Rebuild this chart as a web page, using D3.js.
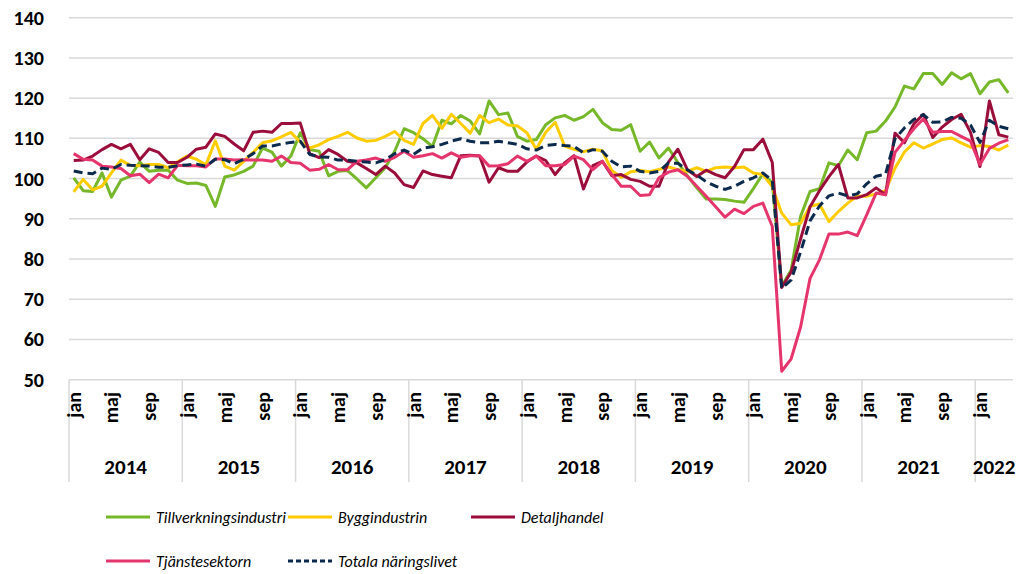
<!DOCTYPE html>
<html>
<head>
<meta charset="utf-8">
<script src="https://cdn.jsdelivr.net/npm/d3@7"></script>
<style>
    body { margin: 0; background: #fff; }
    svg { display: block; font-family: Carlito, Lato, sans-serif; }
    .grid line { stroke: #d9d9d9; stroke-width: 1.5px; }
    .tick-y { font-weight: bold; font-size: 20px; fill: #000; }
    .tick-x { font-weight: bold; font-size: 20px; fill: #000; }
    .year { font-weight: bold; font-size: 21px; fill: #000; }
    .legend text { font-style: italic; font-size: 16px; fill: #000; }
</style>
</head>
<body>
<div id="chart"></div>
<script>
// categories
const years = ["2014", "2015", "2016", "2017", "2018", "2019", "2020", "2021", "2022"];
const monthNames = ["jan", "feb", "mar", "apr", "maj", "jun", "jul", "aug", "sep", "okt", "nov", "dec"];
const shownMonths = ["jan", "maj", "sep"];
const yTicks = [50, 60, 70, 80, 90, 100, 110, 120, 130, 140];

// series, jan 2014 - apr 2022
const tillverkning = [
    100.2, 97.0, 96.8, 101.4, 95.4, 99.6, 100.6, 104.1, 101.8, 102.1, 102.1, 99.6,
    98.8, 98.9, 98.3, 93.1, 100.4, 100.9, 101.8, 103.1, 107.6, 106.6, 103.1, 105.6,
    111.4, 107.2, 106.8, 100.7, 101.8, 102.0, 99.9, 97.7, 100.2, 102.7, 106.8, 112.4,
    111.4, 109.9, 108.0, 114.5, 113.6, 115.7, 114.3, 111.1, 119.3, 115.9, 116.3, 110.5,
    109.3, 109.7, 113.4, 115.1, 115.7, 114.5, 115.4, 117.2, 113.9, 112.2, 112.0, 113.4,
    106.8, 109.1, 105.1, 107.6, 104.0, 100.7, 97.7, 94.9, 94.9, 94.8, 94.4, 94.1,
    97.5, 101.2, 99.0, 73.3, 77.3, 90.6, 96.8, 97.5, 103.9, 103.2, 107.1, 104.7,
    111.4, 111.8, 114.3, 117.8, 123.0, 122.3, 126.1, 126.1, 123.4, 126.3, 124.8, 126.1,
    121.1, 124.0, 124.6, 121.3
];
const bygg = [
    96.7, 99.8, 97.2, 98.1, 101.4, 104.6, 103.3, 103.2, 103.5, 103.5, 102.7, 104.2,
    105.6, 104.8, 103.4, 109.4, 103.1, 102.1, 104.3, 106.5, 108.9, 109.4, 110.4, 111.5,
    109.1, 107.6, 108.4, 109.7, 110.5, 111.5, 110.1, 109.3, 109.5, 110.5, 111.7, 109.5,
    108.5, 113.7, 115.7, 112.5, 116.0, 113.7, 111.3, 115.7, 113.9, 114.8, 113.3, 113.1,
    111.4, 107.3, 111.5, 114.0, 108.1, 107.3, 106.7, 107.3, 106.9, 102.0, 100.3, 101.7,
    102.0, 101.7, 102.3, 102.9, 102.2, 101.8, 102.7, 101.8, 102.7, 102.9, 102.7, 102.9,
    101.4, 101.0, 98.0, 91.4, 88.5, 88.9, 93.1, 93.7, 89.3, 91.8, 93.9, 95.7,
    95.6, 96.2, 97.0, 102.6, 106.6, 108.9, 107.6, 108.6, 109.7, 110.1, 108.9, 107.8,
    108.2, 108.0, 107.1, 108.3
];
const detaljhandel = [
    104.5, 104.6, 105.6, 107.2, 108.5, 107.4, 108.5, 104.7, 107.4, 106.5, 104.0, 104.0,
    105.3, 107.3, 107.8, 111.1, 110.5, 108.6, 106.9, 111.5, 111.8, 111.5, 113.7, 113.7,
    113.8, 106.2, 105.2, 107.2, 106.0, 104.3, 103.9, 102.5, 101.0, 103.1, 101.4, 98.5,
    97.8, 101.9, 101.0, 100.6, 100.2, 105.7, 105.8, 105.6, 99.1, 102.7, 101.8, 101.8,
    104.1, 105.6, 104.5, 101.0, 103.9, 105.7, 97.4, 103.2, 104.3, 100.7, 101.0, 99.8,
    99.3, 98.1, 98.1, 104.1, 107.3, 102.2, 100.5, 102.1, 101.0, 100.2, 103.0, 107.2,
    107.2, 109.8, 104.0, 72.9, 76.8, 85.0, 93.0, 97.0, 100.5, 103.5, 95.2, 95.2,
    96.0, 97.7, 96.0, 111.3, 108.9, 113.6, 116.0, 110.2, 112.8, 114.7, 116.0, 111.5,
    103.0, 119.3, 110.9, 110.3
];
const tjanste = [
    106.2, 104.8, 104.6, 103.1, 102.9, 102.5, 100.7, 101.1, 99.0, 101.1, 100.2, 103.3,
    103.2, 103.2, 102.9, 104.9, 104.9, 104.6, 104.7, 104.6, 104.6, 104.3, 105.6, 104.0,
    103.8, 102.1, 102.3, 103.5, 102.2, 102.2, 104.3, 104.6, 105.1, 104.3, 105.3, 106.8,
    105.3, 105.7, 106.2, 105.1, 106.4, 105.3, 105.7, 105.7, 103.1, 103.2, 103.7, 105.6,
    104.3, 105.6, 103.2, 103.2, 103.5, 105.6, 104.7, 102.2, 104.3, 101.0, 98.1, 98.1,
    95.8, 96.0, 100.2, 101.6, 102.2, 100.6, 98.1, 95.6, 93.0, 90.4, 92.4, 91.3,
    93.1, 93.9, 88.1, 52.1, 55.2, 63.1, 75.2, 79.8, 86.2, 86.2, 86.7, 85.8,
    91.0, 96.4, 96.0, 106.5, 109.5, 112.4, 114.8, 111.5, 111.7, 111.7, 110.5, 109.3,
    103.5, 107.5, 108.8, 109.7
];
const totala = [
    101.9, 101.4, 101.2, 102.6, 102.3, 103.5, 103.3, 103.2, 103.1, 102.8, 102.8, 103.2,
    103.4, 103.6, 103.1, 104.8, 104.7, 103.7, 104.8, 106.2, 108.1, 108.1, 108.6, 109.0,
    109.3, 106.0, 105.4, 105.3, 104.6, 104.6, 104.3, 104.1, 103.9, 104.7, 106.2, 107.1,
    106.0, 107.6, 107.9, 108.5, 109.3, 109.9, 109.3, 108.9, 108.9, 109.3, 108.9, 108.5,
    107.4, 107.1, 108.2, 108.5, 108.2, 108.0, 106.4, 107.2, 106.8, 104.3, 102.9, 103.1,
    101.8, 101.4, 101.8, 103.9, 103.8, 102.2, 100.9, 99.2, 98.1, 97.3, 98.1, 99.3,
    100.2, 101.4, 99.5, 72.7, 74.8, 81.8, 89.5, 93.2, 95.7, 96.4, 95.7, 96.2,
    98.7, 100.6, 101.1, 109.9, 112.6, 114.7, 115.9, 114.0, 114.1, 115.2, 115.0, 113.3,
    109.0, 114.5, 113.0, 112.4
];

const series = [
    {name: "Tillverkningsindustri", values: tillverkning, color: "#76b82a", dash: null},
    {name: "Byggindustrin", values: bygg, color: "#ffcc00", dash: null},
    {name: "Detaljhandel", values: detaljhandel, color: "#9b0d3a", dash: null},
    {name: "Tjänstesektorn", values: tjanste, color: "#e6356d", dash: null},
    {name: "Totala näringslivet", values: totala, color: "#0c2a4d", dash: "9,5"}
];

// month categories built from years x months
const nMonths = totala.length;
const categories = d3.range(nMonths).map(i => ({
    key: i,
    year: years[Math.floor(i / 12)],
    month: monthNames[i % 12]
}));

const width = 1019, height = 574;
const margin = {left: 69, right: 6, top: 17.7, bottom: 194.3};

const svg = d3.select("#chart").append("svg")
    .attr("width", width)
    .attr("height", height);

const x = d3.scalePoint()
    .domain(categories.map(d => d.key))
    .range([margin.left, width - margin.right])
    .padding(0.5);
const step = x.step();

const y = d3.scaleLinear()
    .domain([50, 140])
    .range([height - margin.bottom, margin.top]);

// gridlines
const grid = svg.append("g").attr("class", "grid");
grid.selectAll("line")
    .data(yTicks)
    .enter().append("line")
    .attr("x1", margin.left)
    .attr("x2", width - margin.right)
    .attr("y1", d => y(d))
    .attr("y2", d => y(d));

// y axis labels
svg.append("g").selectAll("text")
    .data(yTicks)
    .enter().append("text")
    .attr("class", "tick-y")
    .attr("x", 44)
    .attr("y", d => y(d))
    .attr("dy", "0.35em")
    .attr("text-anchor", "end")
    .text(d => d);

// year separators on the category axis
const yearStarts = years.map((yr, k) => k * 12).filter(i => i < nMonths);
const sepTop = y(50), sepBottom = 482;
svg.append("g").attr("class", "grid").selectAll("line")
    .data(yearStarts)
    .enter().append("line")
    .attr("x1", i => x(i) - step / 2)
    .attr("x2", i => x(i) - step / 2)
    .attr("y1", sepTop)
    .attr("y2", sepBottom);

// month labels (rotated)
svg.append("g").selectAll("text")
    .data(categories.filter(d => shownMonths.includes(d.month)))
    .enter().append("text")
    .attr("class", "tick-x")
    .attr("text-anchor", "end")
    .attr("dy", "0.35em")
    .attr("transform", d => `translate(${x(d.key)}, 392) rotate(-90)`)
    .text(d => d.month);

// year labels
svg.append("g").selectAll("text")
    .data(yearStarts)
    .enter().append("text")
    .attr("class", "year")
    .attr("text-anchor", "middle")
    .attr("x", i => {
        const last = Math.min(i + 11, nMonths - 1);
        return (x(i) - step / 2 + x(last) + step / 2) / 2;
    })
    .attr("y", 474)
    .text(i => categories[i].year);

// lines
const line = d3.line()
    .x((d, i) => x(i))
    .y(d => y(d));

svg.append("g").selectAll("path")
    .data(series)
    .enter().append("path")
    .attr("fill", "none")
    .attr("stroke", d => d.color)
    .attr("stroke-width", 3)
    .attr("stroke-linejoin", "round")
    .attr("stroke-dasharray", d => d.dash)
    .attr("d", d => line(d.values));

// legend
const legendPos = [[106, 517], [288, 517], [471, 517], [106, 561], [288, 561]];
const legend = svg.append("g").attr("class", "legend")
    .selectAll("g")
    .data(series)
    .enter().append("g")
    .attr("transform", (d, i) => `translate(${legendPos[i][0]}, ${legendPos[i][1]})`);

legend.append("line")
    .attr("x1", 0)
    .attr("x2", 44)
    .attr("stroke", d => d.color)
    .attr("stroke-width", 3)
    .attr("stroke-dasharray", d => d.dash ? "5,3" : null);

legend.append("text")
    .attr("x", 50)
    .attr("dy", "0.35em")
    .text(d => d.name);
</script>
</body>
</html>
